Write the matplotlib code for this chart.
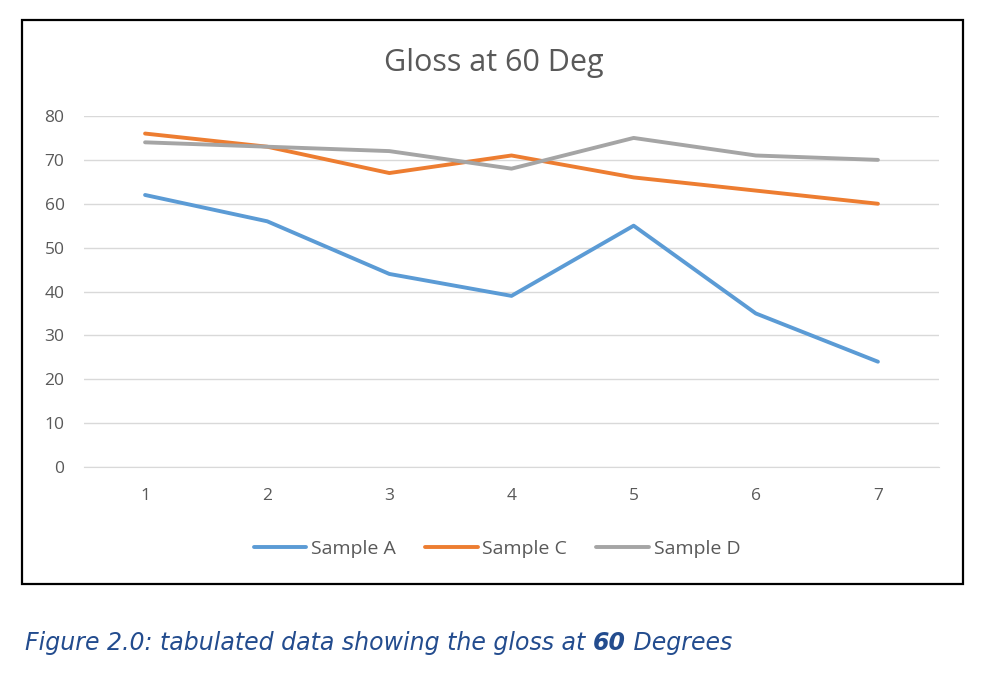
import matplotlib
matplotlib.use("Agg")
import matplotlib.pyplot as plt
from matplotlib.patches import Rectangle
from matplotlib.offsetbox import TextArea, HPacker, AnchoredOffsetbox

x = [1, 2, 3, 4, 5, 6, 7]
sample_a = [62, 56, 44, 39, 55, 35, 24]
sample_c = [76, 73, 67, 71, 66, 63, 60]
sample_d = [74, 73, 72, 68, 75, 71, 70]
labels = ["Sample A", "Sample C", "Sample D"]
colors = ["#5B9BD5", "#ED7D31", "#A5A5A5"]

W, H = 986, 674
fig = plt.figure(figsize=(W / 100, H / 100), dpi=100)
fig.patch.set_facecolor("white")

# outer border box
fig.patches.append(Rectangle((22 / W, 1 - 584 / H), (963 - 22) / W, (584 - 20) / H,
                             transform=fig.transFigure, fill=False, edgecolor="black",
                             linewidth=1.6))

ax = fig.add_axes([84 / W, 1 - 467 / H, (939 - 84) / W, (467 - 116) / H])
for series, lab, col in zip([sample_a, sample_c, sample_d], labels, colors):
    ax.plot(x, series, color=col, linewidth=2.8, label=lab, solid_capstyle="round",
            solid_joinstyle="round")

ax.set_xlim(0.5, 7.5)
ax.set_ylim(0, 80)
ax.set_yticks(range(0, 81, 10))
ax.set_xticks(x)
ax.grid(axis="y", color="#D9D9D9", linewidth=1)
ax.set_axisbelow(True)
for s in ax.spines.values():
    s.set_visible(False)
ax.spines["bottom"].set_visible(True)
ax.spines["bottom"].set_color("#D9D9D9")
ax.tick_params(axis="both", length=0, labelsize=12.5, colors="#595959",
               labelfontfamily="Open Sans")
ax.tick_params(axis="y", pad=14)
ax.tick_params(axis="x", pad=15)

fig.text(494 / W, 1 - 63 / H, "Gloss at 60 Deg", ha="center", va="center",
         fontsize=22, color="#595959", family="Open Sans")

leg = ax.legend(loc="center", bbox_to_anchor=(497 / W, 1 - 549 / H),
                bbox_transform=fig.transFigure, ncol=3, frameon=False,
                handlelength=2.7, handletextpad=0.25, columnspacing=1.5,
                prop={"family": "Open Sans", "size": 14})
for t in leg.get_texts():
    t.set_color("#595959")

cap = dict(fontsize=17, style="italic", color="#234C8E", family="DejaVu Sans")
parts = [
    TextArea("Figure 2.0: tabulated data showing the gloss at ", textprops=cap),
    TextArea("60", textprops=dict(cap, weight="bold")),
    TextArea(" Degrees", textprops=cap),
]
box = HPacker(children=parts, align="baseline", pad=0, sep=0)
anch = AnchoredOffsetbox(loc="center left", child=box, pad=0, frameon=False,
                         bbox_to_anchor=(25 / W, 1 - 643 / H), bbox_transform=fig.transFigure,
                         borderpad=0)
fig.add_artist(anch)

fig.savefig("out.png", dpi=100)
